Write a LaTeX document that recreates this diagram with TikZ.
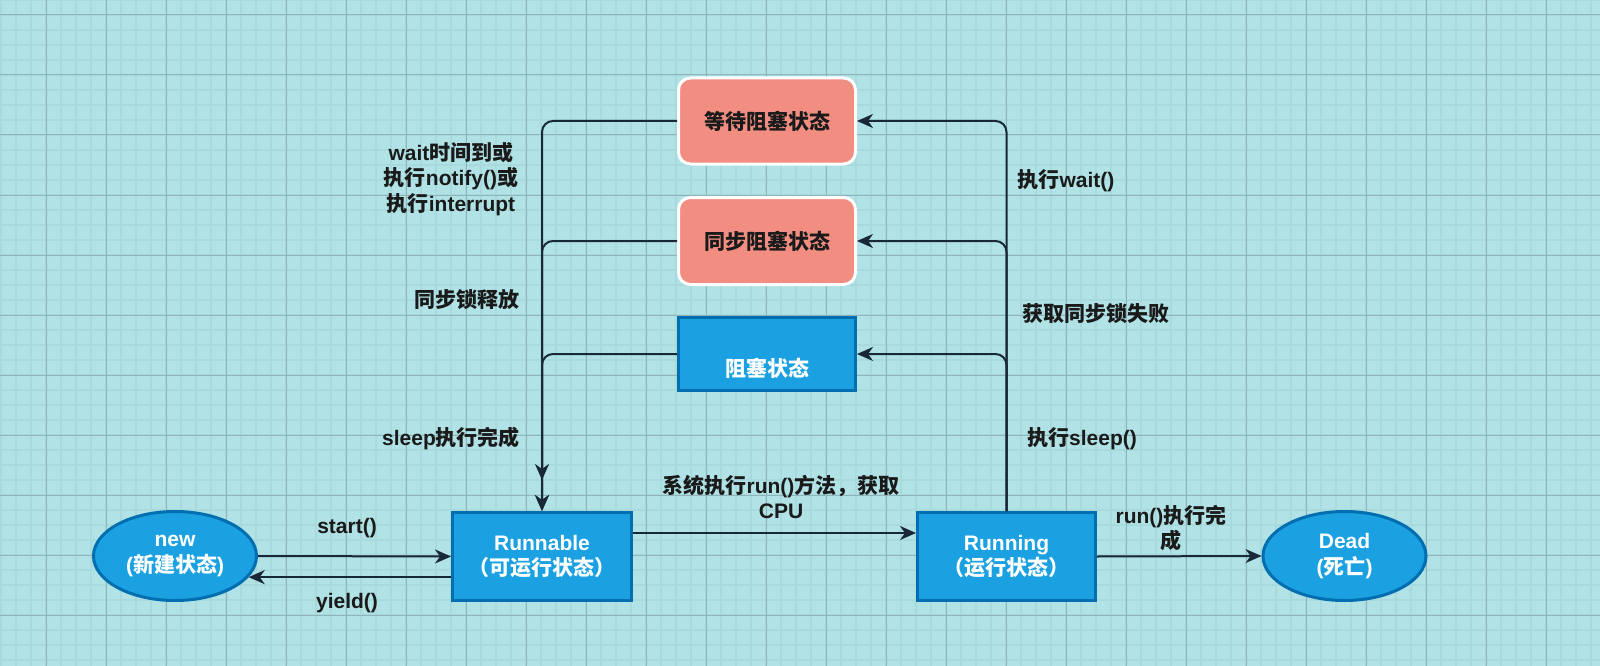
\documentclass[tikz,border=0pt]{standalone}
\usepackage{fontspec}
\setmainfont{Liberation Sans}
\newfontfamily\cjk{Noto Sans CJK SC}
\newcommand\zh[1]{{\cjk #1}}
\usetikzlibrary{arrows.meta,shapes.geometric}
\definecolor{bgc}{RGB}{176,226,230}
\definecolor{gminor}{RGB}{167,217,221}
\definecolor{gmajor}{RGB}{142,180,186}
\definecolor{nodeblue}{RGB}{27,161,226}
\definecolor{nodeborder}{RGB}{0,110,175}
\definecolor{salmon}{RGB}{241,142,129}
\definecolor{edgec}{RGB}{24,40,56}
\definecolor{txt}{RGB}{26,26,26}
\begin{document}
\begin{tikzpicture}[x=1pt,y=-1pt,
  every node/.style={font=\fontsize{21}{25.5}\selectfont\bfseries, align=center, inner sep=0pt, text=txt},
  bluebox/.style={rectangle, draw=nodeborder, line width=3pt, fill=nodeblue, text=white, minimum width=177pt, minimum height=87pt},
  blueell/.style={ellipse, draw=nodeborder, line width=3pt, fill=nodeblue, text=white, minimum width=163pt, minimum height=89pt},
  pinkbox/.style={rectangle, rounded corners=12pt, draw=white, line width=3pt, fill=salmon, minimum width=177pt, minimum height=86pt},
  arr/.style={draw=edgec, line width=2pt, -{Stealth[length=16pt,width=14pt,inset=5pt]}},
  elbow/.style={arr, rounded corners=11pt}]
\useasboundingbox (0,0) rectangle (1600,666);
\fill[bgc] (0,0) rectangle (1600,666);
\foreach \x in {1,16,...,1600} \draw[gminor, line width=2pt] (\x,0) -- (\x,666);
\foreach \y in {0,15,...,666} \draw[gminor, line width=2pt] (0,\y) -- (1600,\y);
\foreach \x in {46,106,...,1600} \draw[gmajor, line width=1pt] (\x,0) -- (\x,666);
\foreach \y in {15,75,...,666} \draw[gmajor, line width=1pt] (0,\y) -- (1600,\y);

\node[pinkbox] (wait) at (767,121) {\zh{等待阻塞状态}};
\node[pinkbox, minimum height=87pt] (sync) at (767,241) {\zh{同步阻塞状态}};
\node[bluebox, minimum height=73pt] (block) at (767,354) {};
\node[text=white] (blocktxt) at (767,368) {\zh{阻塞状态}};
\node[blueell] (new) at (175,556) {new\\(\zh{新建状态})};
\node[bluebox, minimum width=179pt, minimum height=88pt] (runnable) at (542,556.5) {Runnable\\\zh{（可运行状态）}};
\node[bluebox, minimum width=178pt, minimum height=88pt] (running) at (1006.5,556.5) {Running\\\zh{（运行状态）}};
\node[blueell] (dead) at (1344.5,556) {Dead\\(\zh{死亡})};

\coordinate (mid) at (542,480);

\draw[arr] (new.east) -- (runnable.west);
\draw[arr] (runnable.west |- new.-16.8) -- (new.-16.8);
\draw[arr] (runnable.east |- 0,533) -- (running.west |- 0,533);
\draw[arr] (running.east) -- (dead.west);
\draw[elbow] (running.north) |- (wait.east);
\draw[elbow] (running.north) |- (sync.east);
\draw[elbow] (running.north) |- (block.east);
\draw[elbow] (wait.west) -| (runnable.north);
\draw[elbow] (sync.west) -| (runnable.north);
\draw[elbow] (block.west) -| (mid);

\node (l1) at (451,179) {wait\zh{时间到或}\\\zh{执行}notify()\zh{或}\\\zh{执行}interrupt};
\node (l2) at (467,300) {\zh{同步锁释放}};
\node (l3) at (451,439) {sleep\zh{执行完成}};
\node (l4) at (1066,181) {\zh{执行}wait()};
\node (l5) at (1096,314) {\zh{获取同步锁失败}};
\node (l6) at (1082,439) {\zh{执行}sleep()};
\node (l7) at (347,528) {start()};
\node (l8) at (347,603) {yield()};
\node (l9) at (781,497) {\zh{系统执行}run()\zh{方法，获取}\\CPU};
\node (l10) at (1171,528) {run()\zh{执行完}\\\zh{成}};
\end{tikzpicture}
\end{document}
